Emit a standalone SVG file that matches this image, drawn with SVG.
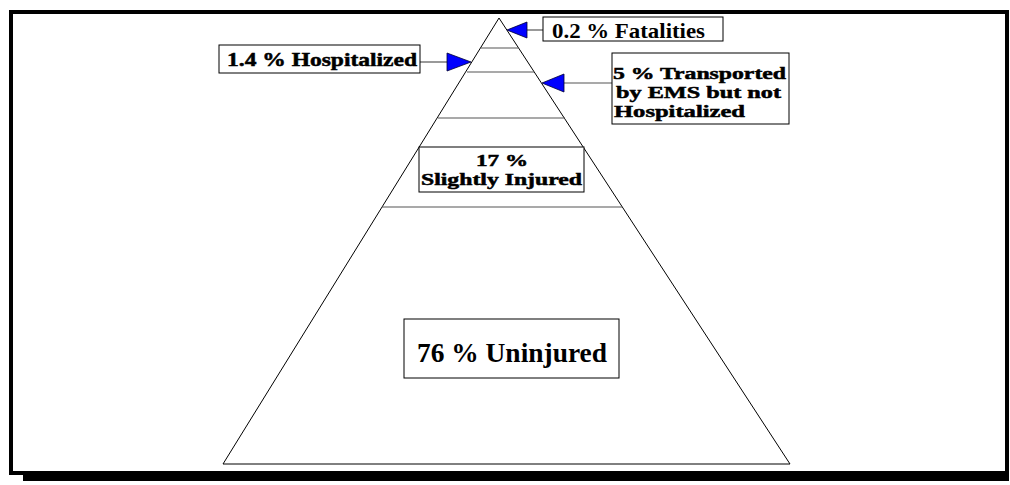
<svg xmlns="http://www.w3.org/2000/svg" width="1010" height="485" viewBox="0 0 1010 485">
<defs>
<style>
.lbl{font-family:"Liberation Serif","Times New Roman",serif;font-weight:bold;fill:#000;}
.heavy{stroke:#000;stroke-width:0.5;}
.box{fill:#fff;stroke:#000;stroke-width:1;}
.tier{stroke:#555;stroke-width:1.2;fill:none;}
.conn{stroke:#555;stroke-width:1.2;fill:none;}
.head{fill:#0000ff;stroke:#000033;stroke-width:0.8;}
</style>
</defs>
<rect x="0" y="0" width="1010" height="485" fill="#fff"/>
<g id="frame">
<rect x="23" y="473" width="986" height="8" fill="#000"/>
<rect x="11" y="12" width="996" height="461" fill="none" stroke="#000" stroke-width="4"/>
</g>
<g id="pyramid">
<polygon points="499,18 223,464 790,464" fill="#fff" stroke="#000" stroke-width="1"/>
<line class="tier" x1="481" y1="48" x2="519" y2="48"/>
<line class="tier" x1="467" y1="72" x2="534" y2="72"/>
<line class="tier" x1="438" y1="118" x2="565" y2="118"/>
<line class="tier" x1="382" y1="207" x2="622" y2="207"/>
</g>
<g id="connectors">
<line class="conn" x1="527" y1="30" x2="543" y2="30"/>
<polygon class="head" points="507,30 527,22 527,38"/>
<line class="conn" x1="420" y1="62" x2="447" y2="62"/>
<polygon class="head" points="471,62 447,53 447,71"/>
<line class="conn" x1="564" y1="83" x2="612" y2="83"/>
<polygon class="head" points="542,83 564,74 564,92"/>
</g>
<g id="fatalities">
<rect class="box" x="543" y="17" width="180" height="24"/>
<text class="lbl" x="552" y="38" font-size="21" textLength="153" lengthAdjust="spacingAndGlyphs">0.2 % Fatalities</text>
</g>
<g id="hospitalized">
<rect class="box" x="219" y="45" width="201" height="28"/>
<text class="lbl heavy" x="227" y="66" font-size="19" textLength="190" lengthAdjust="spacingAndGlyphs">1.4 % Hospitalized</text>
</g>
<g id="transported">
<rect class="box" x="612" y="53" width="177" height="71"/>
<text class="lbl heavy" x="613" y="79" font-size="17" textLength="173" lengthAdjust="spacingAndGlyphs">5 % Transported</text>
<text class="lbl heavy" x="616" y="98" font-size="17" textLength="165" lengthAdjust="spacingAndGlyphs">by EMS but not</text>
<text class="lbl heavy" x="614" y="117" font-size="17" textLength="131" lengthAdjust="spacingAndGlyphs">Hospitalized</text>
</g>
<g id="slightly-injured">
<rect class="box" x="419" y="147" width="165" height="45"/>
<text class="lbl heavy" x="476" y="166" font-size="17" textLength="52" lengthAdjust="spacingAndGlyphs">17 %</text>
<text class="lbl heavy" x="421" y="185" font-size="17" textLength="161" lengthAdjust="spacingAndGlyphs">Slightly Injured</text>
</g>
<g id="uninjured">
<rect class="box" x="404" y="319" width="215" height="59"/>
<text class="lbl" x="417" y="362" font-size="28" textLength="190" lengthAdjust="spacingAndGlyphs">76 % Uninjured</text>
</g>
</svg>
